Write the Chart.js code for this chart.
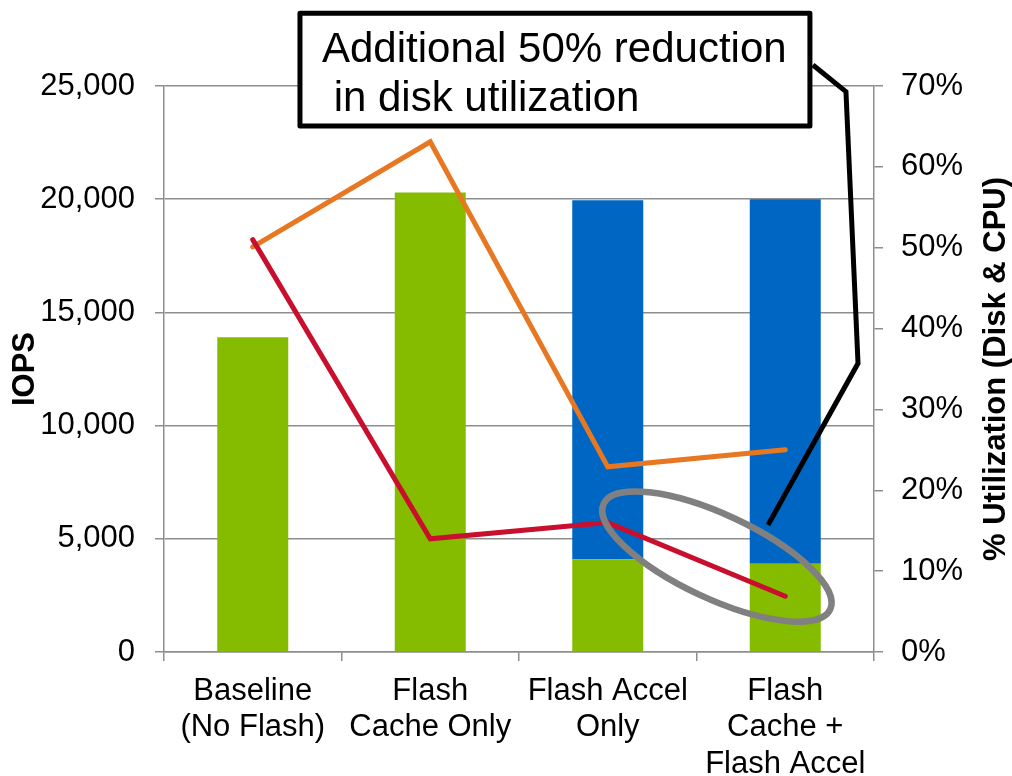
<!DOCTYPE html>
<html lang="en">
<head>
<meta charset="UTF-8">
<title>IOPS and Utilization</title>
<script src="https://cdn.jsdelivr.net/npm/chart.js@4.4.1/dist/chart.umd.min.js"></script>
<style>
  body { margin: 0; background: #fff; }
  .chart-box { width: 1012px; height: 776px; }
</style>
</head>
<body>
<div class="chart-box"><canvas id="iops-chart" width="1012" height="776"></canvas></div>
<script>
// data
const categories = [
  ['Baseline', '(No Flash)'],
  ['Flash', 'Cache Only'],
  ['Flash Accel', 'Only'],
  ['Flash', 'Cache +', 'Flash Accel']
];
const iopsCache = [13900, 20300, 4100, 3900];
const iopsAccel = [null, null, 15850, 16100];
const cpuUtil = [50.1, 63.1, 22.9, 25.0];
const diskUtil = [51.0, 14.0, 16.0, 6.9];
const iopsTicks = [0, 5000, 10000, 15000, 20000, 25000];
const utilTicks = [0, 10, 20, 30, 40, 50, 60, 70];
const noteLines = ['Additional 50% reduction', ' in disk utilization'];

const FONT = '"Liberation Sans", Arial, sans-serif';
const GRID = '#8e8e8e';

Chart.defaults.font.family = FONT;
Chart.defaults.color = '#000';

// callout box, leader line, ellipse and the right axis title
const calloutPlugin = {
  id: 'callout',
  afterDatasetsDraw(chart) {
    const ctx = chart.ctx;
    const xs = chart.scales.x, ys = chart.scales.y1;
    const px = v => xs.getPixelForValue(v);
    const py = v => ys.getPixelForValue(v);
    ctx.save();

    // ellipse round the disk drop
    ctx.strokeStyle = '#808080';
    ctx.lineWidth = 6.5;
    ctx.beginPath();
    ctx.ellipse(px(2.615), py(11.8), 125, 42, 25 * Math.PI / 180, 0, Math.PI * 2);
    ctx.stroke();

    // leader line
    ctx.strokeStyle = '#000';
    ctx.lineWidth = 5;
    ctx.lineJoin = 'miter';
    ctx.beginPath();
    ctx.moveTo(px(3.156), py(72.6));
    ctx.lineTo(px(3.342), py(69.3));
    ctx.lineTo(px(3.410), py(35.7));
    ctx.lineTo(px(2.903), py(15.7));
    ctx.stroke();

    // text box
    const bx = px(0.266), bw = px(3.139) - bx;
    const by = py(79.0), bh = py(65.05) - by;
    ctx.fillStyle = '#fff';
    ctx.fillRect(bx, by, bw, bh);
    ctx.lineJoin = 'round';
    ctx.strokeRect(bx, by, bw, bh);
    ctx.fillStyle = '#000';
    ctx.font = '42px ' + FONT;
    ctx.textAlign = 'left';
    ctx.textBaseline = 'alphabetic';
    ctx.fillText(noteLines[0], bx + 22, by + 49);
    ctx.fillText(noteLines[1], bx + 22, by + 98);

    // right axis title, reads bottom to top
    const area = chart.chartArea;
    ctx.translate(996, (area.top + area.bottom) / 2);
    ctx.rotate(-Math.PI / 2);
    ctx.font = 'bold 31px ' + FONT;
    ctx.textAlign = 'center';
    ctx.textBaseline = 'middle';
    ctx.fillText('% Utilization (Disk & CPU)', 0, 0);
    ctx.restore();
  }
};

const ctx = document.getElementById('iops-chart').getContext('2d');
const chart = new Chart(ctx, {
  data: {
    labels: categories,
    datasets: [
      {
        type: 'line',
        label: 'Disk Utilization',
        data: diskUtil,
        yAxisID: 'y1',
        borderColor: '#c8102e',
        borderWidth: 5,
        borderCapStyle: 'round',
        pointRadius: 0,
        tension: 0,
        order: 0
      },
      {
        type: 'line',
        label: 'CPU Utilization',
        data: cpuUtil,
        yAxisID: 'y1',
        borderColor: '#e87722',
        borderWidth: 5,
        borderCapStyle: 'round',
        pointRadius: 0,
        tension: 0,
        order: 1
      },
      {
        type: 'bar',
        label: 'IOPS (Flash Cache)',
        data: iopsCache,
        yAxisID: 'y',
        backgroundColor: '#86bc00',
        barPercentage: 0.4,
        categoryPercentage: 1,
        order: 2
      },
      {
        type: 'bar',
        label: 'IOPS (Flash Accel)',
        data: iopsAccel,
        yAxisID: 'y',
        backgroundColor: '#0066c4',
        barPercentage: 0.4,
        categoryPercentage: 1,
        order: 2
      }
    ]
  },
  options: {
    responsive: false,
    animation: false,
    devicePixelRatio: 1,
    layout: { padding: { top: 86, left: 0, right: 0, bottom: 0 } },
    plugins: {
      legend: { display: false },
      tooltip: { enabled: false }
    },
    scales: {
      x: {
        stacked: true,
        afterFit: s => { s.height = 124; },
        grid: { drawOnChartArea: false, color: GRID, lineWidth: 1.5, tickLength: 9 },
        border: { color: GRID, width: 1.5 },
        ticks: { font: { size: 31, lineHeight: 1.18 }, maxRotation: 0, autoSkip: false, padding: 12 }
      },
      y: {
        stacked: true,
        position: 'left',
        min: 0,
        max: 25000,
        afterFit: s => { s.width = 164; },
        afterBuildTicks: s => { s.ticks = iopsTicks.map(v => ({ value: v })); },
        grid: { color: GRID, lineWidth: 1.5, tickLength: 9 },
        border: { color: GRID, width: 1.5 },
        ticks: {
          font: { size: 31 },
          padding: 20,
          callback: v => v.toLocaleString('en-US')
        },
        title: {
          display: true,
          text: 'IOPS',
          font: { size: 31, weight: 'bold' },
          padding: { top: 7, bottom: 0 }
        }
      },
      y1: {
        position: 'right',
        min: 0,
        max: 70,
        afterFit: s => { s.width = 138; },
        afterBuildTicks: s => { s.ticks = utilTicks.map(v => ({ value: v })); },
        grid: { drawOnChartArea: false, color: GRID, lineWidth: 1.5, tickLength: 9 },
        border: { color: GRID, width: 1.5 },
        ticks: {
          font: { size: 31 },
          padding: 18,
          callback: v => v + '%'
        }
      }
    }
  },
  plugins: [calloutPlugin]
});
</script>
</body>
</html>
